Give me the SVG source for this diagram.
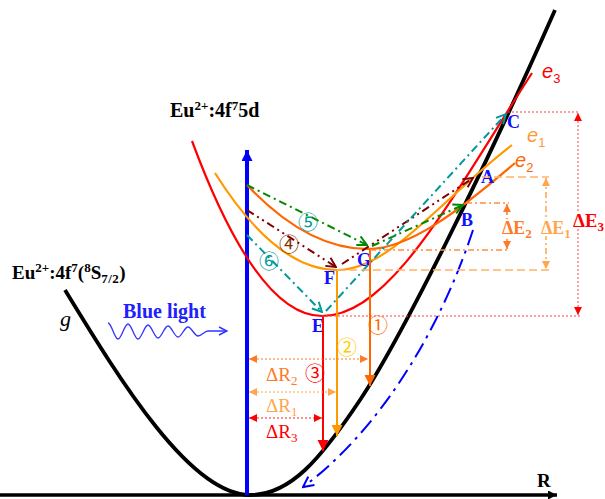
<svg xmlns="http://www.w3.org/2000/svg" width="605" height="499" viewBox="0 0 605 499">
<style>
 .lbl{font-family:"Liberation Serif","Times New Roman",serif;font-weight:bold;fill:#000;}
 .pt{font-family:"Liberation Serif","Times New Roman",serif;font-weight:bold;font-size:18px;fill:#1010ff;}
 .circ{font-family:"Noto Sans CJK SC","DejaVu Sans",sans-serif;font-size:20px;}
 .ital{font-family:"Liberation Sans","Arial",sans-serif;font-style:italic;font-size:20px;}
 .dim{font-family:"Liberation Serif","Times New Roman",serif;font-size:19px;}
 .halo{paint-order:stroke;stroke:#fff;stroke-width:4px;stroke-linejoin:round;}
 .curve{fill:none;stroke-width:2.2;}
</style>
<defs>
 <marker id="hR" viewBox="0 0 10 10" refX="10" refY="5" markerWidth="11" markerHeight="12" markerUnits="userSpaceOnUse" orient="auto"><path d="M0,0L10,5L0,10z" fill="#f00"/></marker>
 <marker id="hO" viewBox="0 0 10 10" refX="10" refY="5" markerWidth="11" markerHeight="12" markerUnits="userSpaceOnUse" orient="auto"><path d="M0,0L10,5L0,10z" fill="#ff9900"/></marker>
 <marker id="hD" viewBox="0 0 10 10" refX="10" refY="5" markerWidth="11" markerHeight="12" markerUnits="userSpaceOnUse" orient="auto"><path d="M0,0L10,5L0,10z" fill="#ff6600"/></marker>
 <marker id="sR" viewBox="0 0 10 10" refX="10" refY="5" markerWidth="8" markerHeight="8" markerUnits="userSpaceOnUse" orient="auto-start-reverse"><path d="M0,0L10,5L0,10z" fill="#f00"/></marker>
 <marker id="sO" viewBox="0 0 10 10" refX="10" refY="5" markerWidth="8" markerHeight="8" markerUnits="userSpaceOnUse" orient="auto-start-reverse"><path d="M0,0L10,5L0,10z" fill="#ffa64d"/></marker>
 <marker id="sD" viewBox="0 0 10 10" refX="10" refY="5" markerWidth="8" markerHeight="8" markerUnits="userSpaceOnUse" orient="auto-start-reverse"><path d="M0,0L10,5L0,10z" fill="#ff7a26"/></marker>
 <marker id="vG" viewBox="0 0 10 10" refX="9" refY="5" markerWidth="12" markerHeight="12" markerUnits="userSpaceOnUse" orient="auto"><path d="M1,1L9,5L1,9" fill="none" stroke="#008800" stroke-width="1.6"/></marker>
 <marker id="vB" viewBox="0 0 10 10" refX="9" refY="5" markerWidth="12" markerHeight="12" markerUnits="userSpaceOnUse" orient="auto"><path d="M1,1L9,5L1,9" fill="none" stroke="#7f0000" stroke-width="1.6"/></marker>
 <marker id="vT" viewBox="0 0 10 10" refX="9" refY="5" markerWidth="12" markerHeight="12" markerUnits="userSpaceOnUse" orient="auto"><path d="M1,1L9,5L1,9" fill="none" stroke="#009999" stroke-width="1.6"/></marker>
 <marker id="vBl" viewBox="0 0 10 10" refX="9" refY="5" markerWidth="13" markerHeight="13" markerUnits="userSpaceOnUse" orient="auto"><path d="M1,1L9,5L1,9" fill="none" stroke="#0000ff" stroke-width="1.6"/></marker>
 <marker id="vW" viewBox="0 0 10 10" refX="9" refY="5" markerWidth="10" markerHeight="10" markerUnits="userSpaceOnUse" orient="auto"><path d="M1,1L9,5L1,9" fill="none" stroke="#3333ff" stroke-width="1.4"/></marker>
 <marker id="hK" viewBox="0 0 10 10" refX="10" refY="5" markerWidth="10" markerHeight="9" markerUnits="userSpaceOnUse" orient="auto"><path d="M0,0L10,5L0,10z" fill="#000"/></marker>
 <marker id="hBlue" viewBox="0 0 10 10" refX="10" refY="5" markerWidth="13" markerHeight="11" markerUnits="userSpaceOnUse" orient="auto"><path d="M0,0L10,5L0,10z" fill="#0000ff"/></marker>
</defs>
<rect width="605" height="499" fill="#fff"/>

<g id="axis-R">
 <line x1="0" y1="495" x2="557" y2="495" stroke="#000" stroke-width="3.5" marker-end="url(#hK)"/>
 <text class="lbl" x="537" y="487" font-size="19">R</text>
</g>

<g id="ground-g">
 <path d="M65,290 C120,380 190,495 250,495 C290,495 320,460 360,400 S480,180 555,10" fill="none" stroke="#000" stroke-width="3.8"/>
 <text x="60" y="326" font-family="Liberation Serif, serif" font-style="italic" font-size="22">g</text>
 <text class="lbl" x="12" y="279" font-size="19">Eu<tspan dy="-7" font-size="13">2+</tspan><tspan dy="7">:4f</tspan><tspan dy="-7" font-size="13">7</tspan><tspan dy="7">(</tspan><tspan dy="-7" font-size="13">8</tspan><tspan dy="7">S</tspan><tspan dy="4" font-size="13" letter-spacing="0.5">7/2</tspan><tspan dy="-4">)</tspan></text>
</g>

<g id="excite-axis">
 <line x1="247" y1="495" x2="247" y2="150" stroke="#0000ff" stroke-width="4" marker-end="url(#hBlue)"/>
 <text class="lbl" x="170" y="117" font-size="20">Eu<tspan dy="-7" font-size="13">2+</tspan><tspan dy="7">:4f</tspan><tspan dy="-7" font-size="13">7</tspan><tspan dy="7">5d</tspan></text>
</g>

<g id="blue-light">
 <text class="lbl" x="123" y="318" font-size="20" style="fill:#2020ff">Blue light</text>
 <path d="M108,323 C111.6,323 114.4,339 118,339 C121.6,339 124.4,324 128,324 C131.6,324 134.4,339 138,339 C141.6,339 144.4,325 148,325 C151.6,325 154.4,338 158,338 C161.6,338 164.4,326 168,326 C171.6,326 174.4,337 178,337 C181.6,337 184.4,327 188,327 C191.6,327 194.4,336 198,336 C201.6,336 204.4,331 208,331 L227,331" fill="none" stroke="#3333ff" stroke-width="1.3" marker-end="url(#vW)"/>
</g>

<g id="e3">
 <path class="curve" d="M192,141 Q257,316 322,316 C390,316 450,200 532,73" stroke="#ff0000"/>
 <text class="ital" x="542" y="78" fill="#ff0000">e<tspan dy="5" font-size="13" font-style="normal">3</tspan></text>
</g>
<g id="e1">
 <path class="curve" d="M215,173 Q276,270 337,270 C390,270 440,200 512,145" stroke="#ff9900"/>
 <text class="ital" x="527" y="142" fill="#ff9933">e<tspan dy="5" font-size="13" font-style="normal">1</tspan></text>
</g>
<g id="e2">
 <path class="curve" d="M247,185 Q307.5,249 368,249 C410,249 460,210 515,163" stroke="#ff6600"/>
 <text class="ital" x="515" y="167" fill="#ff6600">e<tspan dy="5" font-size="13" font-style="normal">2</tspan></text>
</g>

<g id="points">
 <text class="pt" x="507" y="128">C</text>
 <text class="pt" x="481" y="183">A</text>
 <text class="pt" x="461" y="226">B</text>
 <text class="pt" x="312" y="332">E</text>
 <text class="pt" x="324" y="284">F</text>
 <text class="pt" x="357" y="266">G</text>
</g>

<g id="connectors">
 <line x1="247" y1="185" x2="367" y2="245" stroke="#008800" stroke-width="2" stroke-dasharray="8,4,2,4" marker-end="url(#vG)"/>
 <line x1="372" y1="246" x2="463" y2="205" stroke="#008800" stroke-width="2" stroke-dasharray="8,4,2,4" marker-end="url(#vG)"/>
 <line x1="247" y1="210" x2="336" y2="267" stroke="#7f0000" stroke-width="2" stroke-dasharray="8,4,2,4,2,4" marker-end="url(#vB)"/>
 <line x1="342" y1="264" x2="473" y2="178" stroke="#7f0000" stroke-width="2" stroke-dasharray="8,4,2,4,2,4" marker-end="url(#vB)"/>
 <line x1="247" y1="235" x2="322" y2="312" stroke="#009999" stroke-width="2" stroke-dasharray="8,4,2,4" marker-end="url(#vT)"/>
 <line x1="326" y1="311" x2="506" y2="114" stroke="#009999" stroke-width="2" stroke-dasharray="8,4,2,4" marker-end="url(#vT)"/>
 <path d="M473,230 C440,330 380,430 303,487" fill="none" stroke="#0000ff" stroke-width="2" stroke-dasharray="16,6,3,6" marker-end="url(#vBl)"/>

 <line x1="370" y1="249" x2="370" y2="386" stroke="#ff6600" stroke-width="2" marker-end="url(#hD)"/>
 <line x1="337" y1="270" x2="337" y2="436" stroke="#ff9900" stroke-width="2" marker-end="url(#hO)"/>
 <line x1="323" y1="316" x2="323" y2="451" stroke="#ff0000" stroke-width="2" marker-end="url(#hR)"/>

 <line x1="508" y1="112" x2="580" y2="112" stroke="#ff4040" stroke-width="1" stroke-dasharray="2,2"/>
 <line x1="322" y1="316" x2="580" y2="316" stroke="#ff4040" stroke-width="1" stroke-dasharray="2,2"/>
 <line x1="578" y1="113" x2="578" y2="315" stroke="#ff4040" stroke-width="1" stroke-dasharray="2,2" marker-start="url(#sR)" marker-end="url(#sR)"/>
 <line x1="482" y1="177" x2="549" y2="177" stroke="#ffb366" stroke-width="1.5" stroke-dasharray="8,4"/>
 <line x1="337" y1="270" x2="549" y2="270" stroke="#ffb366" stroke-width="1.5" stroke-dasharray="8,4"/>
 <line x1="546" y1="178" x2="546" y2="269" stroke="#ffa64d" stroke-width="1.5" stroke-dasharray="6,3,2,3" marker-start="url(#sO)" marker-end="url(#sO)"/>
 <line x1="466" y1="203" x2="509" y2="203" stroke="#ff8c40" stroke-width="1.3" stroke-dasharray="6,3,2,3"/>
 <line x1="370" y1="250" x2="509" y2="250" stroke="#ff8c40" stroke-width="1.3" stroke-dasharray="6,3,2,3"/>
 <line x1="507" y1="204" x2="507" y2="249" stroke="#ff7a26" stroke-width="1.5" stroke-dasharray="4,3" marker-start="url(#sD)" marker-end="url(#sD)"/>

 <line x1="249" y1="359" x2="368" y2="359" stroke="#ff7a26" stroke-width="1" stroke-dasharray="2,2" marker-start="url(#sD)" marker-end="url(#sD)"/>
 <line x1="249" y1="392" x2="336" y2="392" stroke="#ffa64d" stroke-width="1" stroke-dasharray="2,2" marker-start="url(#sO)" marker-end="url(#sO)"/>
 <line x1="249" y1="418" x2="322" y2="418" stroke="#ff2020" stroke-width="1" stroke-dasharray="2,2" marker-start="url(#sR)" marker-end="url(#sR)"/>
</g>

<g id="dim-labels">
 <text class="lbl halo" x="573" y="227" font-size="19" style="fill:#ff0000">ΔE<tspan dy="4" font-size="13">3</tspan></text>
 <text class="lbl halo" x="541" y="234" font-size="18" style="fill:#ffa64d">ΔE<tspan dy="4" font-size="13">1</tspan></text>
 <text class="lbl halo" x="502" y="234" font-size="18" style="fill:#ff7a26">ΔE<tspan dy="4" font-size="13">2</tspan></text>
 <text class="dim" x="266" y="381" fill="#ff7a26">ΔR<tspan dy="4" font-size="13">2</tspan></text>
 <text class="dim" x="266" y="412" fill="#ffa64d">ΔR<tspan dy="4" font-size="13">1</tspan></text>
 <text class="dim" x="266" y="438" fill="#ff0000">ΔR<tspan dy="4" font-size="13">3</tspan></text>
</g>

<g id="circled">
 <text class="circ" x="308" y="230" text-anchor="middle" fill="#009999">⑤</text>
 <text class="circ" x="289" y="252" text-anchor="middle" fill="#7f3000">④</text>
 <text class="circ" x="269" y="269" text-anchor="middle" fill="#009999">⑥</text>
 <text class="circ" x="378" y="333" text-anchor="middle" fill="#ff6600">①</text>
 <text class="circ" x="347" y="355" text-anchor="middle" fill="#ffcc00">②</text>
 <text class="circ" x="315" y="381" text-anchor="middle" fill="#ff0000">③</text>
</g>
</svg>
